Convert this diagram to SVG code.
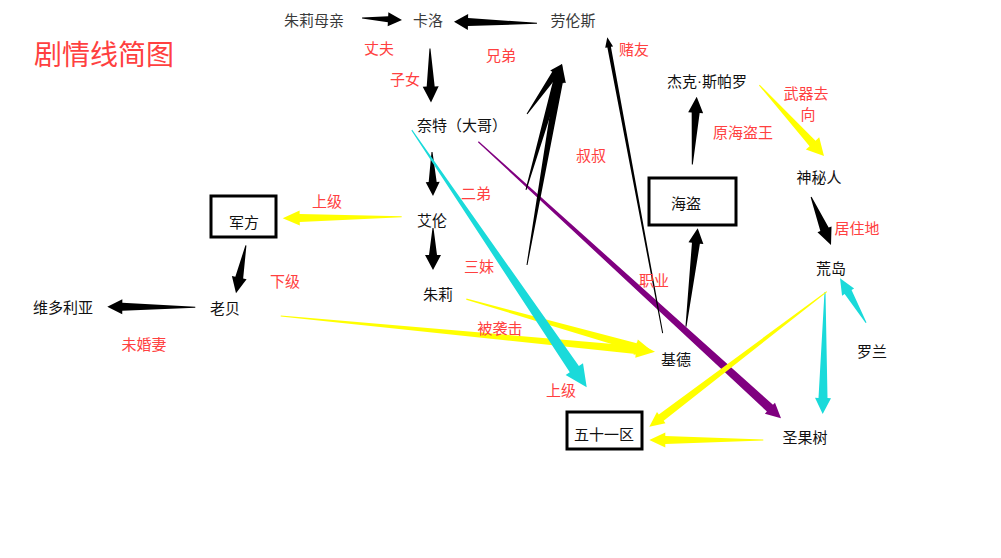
<svg xmlns="http://www.w3.org/2000/svg" width="1001" height="558" viewBox="0 0 1001 558">
<style>
text{font-family:"Noto Sans CJK SC","Microsoft YaHei","Noto Sans",sans-serif;font-size:15px;text-anchor:middle;dominant-baseline:central}
.n{fill:#111}
.g{fill:#3a3a3a}
.r{fill:#ff4040}
.dot{font-family:"Liberation Sans",Arial,sans-serif}
.box{fill:#fff;stroke:#000;stroke-width:3}
.k{fill:#000}
.y{fill:#ffff00}
.c{fill:#1adada}
.p{fill:#800080}
</style>
<rect x="0" y="0" width="1001" height="558" fill="#fff"/>
<g id="connectors">
<polygon class="k" transform="translate(402,20) rotate(2.86)" points="-40,-0.5 -14,-3 -14,-7 0,0 -14,7 -14,3 -40,0.5"/>
<polygon class="k" transform="translate(454,21.7) rotate(-178.9)" points="-83,-0.5 -14,-4 -14,-8 0,0 -14,8 -14,4 -83,0.5"/>
<polygon class="k" transform="translate(431,102.5) rotate(88.9)" points="-54,-0.5 -16,-4 -16,-8 0,0 -16,8 -16,4 -54,0.5"/>
<polygon class="k" transform="translate(433,196) rotate(88.7)" points="-44,-0.5 -14,-4 -14,-7 0,0 -14,7 -14,4 -44,0.5"/>
<polygon class="k" transform="translate(433,270) rotate(90)" points="-42,-0.5 -15,-4 -15,-8 0,0 -15,8 -15,4 -42,0.5"/>
<polygon class="y" transform="translate(282.7,218.3) rotate(179.23)" points="-119,-0.5 -17,-4 -17,-7.5 0,0 -17,7.5 -17,4 -119,0.5"/>
<polygon class="k" transform="translate(236,293.3) rotate(101.7)" points="-49,-0.5 -16,-4 -16,-7.5 0,0 -16,7.5 -16,4 -49,0.5"/>
<polygon class="k" transform="translate(107.3,306.7) rotate(-179.6)" points="-88,-0.5 -15,-4 -15,-7.5 0,0 -15,7.5 -15,4 -88,0.5"/>
<polygon class="y" transform="translate(655,351.7) rotate(5.45)" points="-376,-0.6 -19,-4 -19,-8 0,0 -19,8 -19,4 -376,0.6"/>
<polygon class="y" transform="translate(653,352) rotate(15.8)" points="-194,-0.6 -18,-4 -18,-8 0,0 -18,8 -18,4 -194,0.6"/>
<polygon class="c" transform="translate(586.7,387.3) rotate(55.78)" points="-311,-0.5 -22,-5.5 -22,-10.5 0,0 -22,10.5 -22,5.5 -311,0.5"/>
<polygon class="p" transform="translate(781,418.3) rotate(42.42)" points="-410,-0.6 -15,-4.5 -15,-7.5 0,0 -15,7.5 -15,4.5 -410,0.6"/>
<polygon class="k" transform="translate(607.3,37.3) rotate(-100.6)" points="-301,-0.5 -10,-1.8 -10,-4 0,0 -10,4 -10,1.8 -301,0.5"/>
<polygon class="k" transform="translate(697.7,228.3) rotate(-83.2)" points="-99,-0.5 -15,-4 -15,-7.5 0,0 -15,7.5 -15,4 -99,0.5"/>
<polygon class="k" transform="translate(696.7,96.7) rotate(-86.3)" points="-68,-0.5 -16,-4 -16,-7.5 0,0 -16,7.5 -16,4 -68,0.5"/>
<polygon class="y" transform="translate(824,156) rotate(47.66)" points="-96,-0.5 -17,-4 -17,-9 0,0 -17,9 -17,4 -96,0.5"/>
<polygon class="k" transform="translate(831,245) rotate(67.5)" points="-52,-0.5 -17,-4.5 -17,-7.6 0,0 -17,7.6 -17,4.5 -52,0.5"/>
<polygon class="c" transform="translate(840,278.3) rotate(-120.4)" points="-51.5,-0.5 -16,-4 -16,-7 0,0 -16,7 -16,4 -51.5,0.5"/>
<polygon class="c" transform="translate(822.7,414) rotate(91.08)" points="-122,-0.5 -16,-4.5 -16,-8 0,0 -16,8 -16,4.5 -122,0.5"/>
<polygon class="y" transform="translate(649.3,426.7) rotate(142.73)" points="-223,-0.5 -15,-4 -15,-7 0,0 -15,7 -15,4 -223,0.5"/>
<polygon class="y" transform="translate(649.3,440) rotate(180)" points="-114,-0.5 -16,-4 -16,-7.5 0,0 -16,7.5 -16,4 -114,0.5"/>
<polygon class="k" transform="translate(562,64) rotate(-55)" points="-61,-0.5 -12,-3.5 -12,-6 0,0 -12,6 -12,3.5 -61,0.5"/>
<polygon class="k" transform="translate(562,64) rotate(-74.05)" points="-131,-0.5 -18,-4 -18,-7 0,0 -18,7 -18,4 -131,0.5"/>
<polygon class="k" transform="translate(562,64) rotate(-80.12)" points="-204,-0.5 -18,-4 -18,-7 0,0 -18,7 -18,4 -204,0.5"/>
</g>
<g id="title"><text class="r" x="104" y="53" style="font-size:28px">剧情线简图</text></g>
<g id="node-zhuli-mother"><text class="g" x="314" y="19">朱莉母亲</text></g>
<g id="node-kaluo"><text class="g" x="428" y="19">卡洛</text></g>
<g id="node-laolunsi"><text class="g" x="573" y="19">劳伦斯</text></g>
<g id="node-naite"><text class="n" x="462" y="124">奈特（大哥）</text></g>
<g id="node-ailun"><text class="n" x="432" y="219">艾伦</text></g>
<g id="node-zhuli"><text class="n" x="438" y="293">朱莉</text></g>
<g id="node-junfang"><rect class="box" x="211" y="196" width="65" height="41"/><text class="n" x="244" y="221">军方</text></g>
<g id="node-laobei"><text class="n" x="225" y="307">老贝</text></g>
<g id="node-weiduoliya"><text class="n" x="63" y="306">维多利亚</text></g>
<g id="node-jack"><text class="n" x="707" y="80">杰克<tspan class="dot">·</tspan>斯帕罗</text></g>
<g id="node-haidao"><rect class="box" x="649" y="178" width="87" height="47"/><text class="n" x="686" y="202">海盗</text></g>
<g id="node-shenmiren"><text class="n" x="819" y="176">神秘人</text></g>
<g id="node-huangdao"><text class="n" x="831" y="267">荒岛</text></g>
<g id="node-luolan"><text class="n" x="872" y="350">罗兰</text></g>
<g id="node-jide"><text class="n" x="676" y="358">基德</text></g>
<g id="node-shengguoshu"><text class="n" x="805" y="436">圣果树</text></g>
<g id="node-area51"><rect class="box" x="567" y="412" width="75" height="37"/><text class="n" x="604" y="433">五十一区</text></g>
<g id="labels">
<text class="r" x="379" y="47">丈夫</text>
<text class="r" x="405" y="78">子女</text>
<text class="r" x="501" y="54">兄弟</text>
<text class="r" x="634" y="48">赌友</text>
<text class="r" x="591" y="154">叔叔</text>
<text class="r" x="743" y="131">原海盗王</text>
<text class="r" x="806" y="92">武器去</text>
<text class="r" x="808" y="113">向</text>
<text class="r" x="857" y="227">居住地</text>
<text class="r" x="327" y="200">上级</text>
<text class="r" x="285" y="280">下级</text>
<text class="r" x="476" y="192">二弟</text>
<text class="r" x="479" y="265">三妹</text>
<text class="r" x="500" y="327">被袭击</text>
<text class="r" x="561" y="389">上级</text>
<text class="r" x="654" y="279">职业</text>
<text class="r" x="144" y="343">未婚妻</text>
</g>
</svg>
